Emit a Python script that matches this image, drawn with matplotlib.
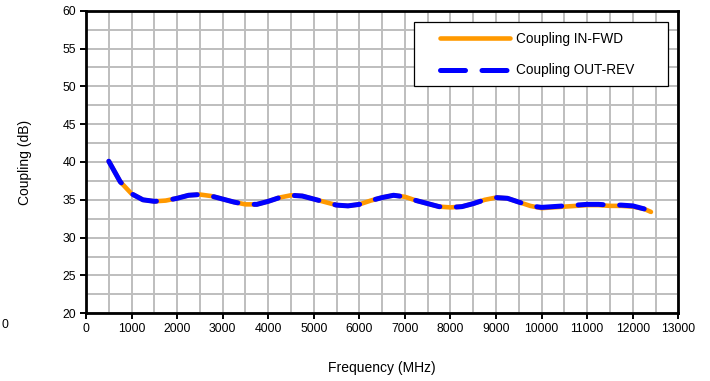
import numpy as np
import matplotlib
matplotlib.use("Agg")
from matplotlib import pyplot as plt
from matplotlib.ticker import MultipleLocator
from matplotlib.patches import Rectangle

# frequency points (MHz)
freq = [500, 750, 1000, 1250, 1500, 1750, 2000, 2250, 2500, 2750, 3000, 3250,
        3500, 3750, 4000, 4250, 4500, 4750, 5000, 5250, 5500, 5750, 6000, 6250,
        6500, 6750, 7000, 7250, 7500, 7750, 8000, 8250, 8500, 8750, 9000, 9250,
        9500, 9750, 10000, 10250, 10500, 10750, 11000, 11250, 11500, 11750,
        12000, 12250, 12400]

coupling_in_fwd = [40.1, 37.4, 35.8, 35.0, 34.8, 34.9, 35.2, 35.6, 35.7, 35.5,
                   35.1, 34.7, 34.4, 34.4, 34.8, 35.3, 35.6, 35.5, 35.1, 34.7,
                   34.3, 34.2, 34.4, 34.9, 35.3, 35.6, 35.4, 34.9, 34.5, 34.1,
                   34.0, 34.1, 34.5, 35.0, 35.3, 35.2, 34.7, 34.2, 33.9, 34.0,
                   34.1, 34.2, 34.3, 34.3, 34.2, 34.2, 34.1, 33.8, 33.4]

coupling_out_rev = [40.1, 37.4, 35.8, 35.0, 34.8, 34.9, 35.2, 35.6, 35.7, 35.5,
                    35.1, 34.7, 34.4, 34.4, 34.8, 35.3, 35.6, 35.5, 35.1, 34.7,
                    34.3, 34.2, 34.4, 34.9, 35.3, 35.6, 35.4, 34.9, 34.5, 34.1,
                    34.0, 34.1, 34.5, 35.0, 35.3, 35.2, 34.7, 34.2, 34.0, 34.1,
                    34.2, 34.3, 34.4, 34.4, 34.3, 34.3, 34.2, 33.8, 33.4]

plt.rcParams["font.family"] = ["Liberation Sans", "DejaVu Sans"]

W, H = 710, 381
fig = plt.figure(figsize=(7.1, 3.81), dpi=100)
ax_l, ax_b, ax_w, ax_h = 86, 313.3, 592.3, 302.6
ax = fig.add_axes([ax_l / W, 1 - ax_b / H, ax_w / W, ax_h / H])


def to_axes(px, py):
    # pixel position in the picture -> axes fraction
    return (px - ax_l) / ax_w, (ax_b - py) / ax_h


# grid (major and minor both drawn the same grey)
ax.xaxis.set_major_locator(MultipleLocator(1000))
ax.xaxis.set_minor_locator(MultipleLocator(500))
ax.yaxis.set_major_locator(MultipleLocator(5))
ax.yaxis.set_minor_locator(MultipleLocator(2.5))
ax.grid(which="both", color="#BEBEBE", linewidth=1.4, zorder=0)
ax.set_axisbelow(True)

ax.plot(freq, coupling_in_fwd, color="#FF9900", linewidth=3.3,
        solid_capstyle="round", label="Coupling IN-FWD", zorder=3)
ax.plot(freq, coupling_out_rev, color="#0000FF", linewidth=3.6,
        dashes=(5.0, 3.3), dash_capstyle="round", label="Coupling OUT-REV",
        zorder=4)

ax.set_xlim(0, 13000)
ax.set_ylim(20, 60)

for s in ax.spines.values():
    s.set_linewidth(2.0)
    s.set_color("black")

ax.tick_params(which="major", direction="out", length=4, width=1.4,
               labelsize=8.8, colors="black", pad=3)
ax.tick_params(which="minor", length=0)

ax.set_xlabel("Frequency (MHz)", fontsize=10, labelpad=19)
ax.set_ylabel("Coupling (dB)", fontsize=10, labelpad=22)

# legend box drawn separately so it can be wider than its contents
x0, y0 = to_axes(414, 86)
x1, y1 = to_axes(667.7, 22.3)
ax.add_patch(Rectangle((x0, y0), x1 - x0, y1 - y0, transform=ax.transAxes,
                       facecolor="white", edgecolor="black", linewidth=0.9,
                       zorder=5))
lx, ly = to_axes(440, 32)
leg = ax.legend(loc="upper left", bbox_to_anchor=(lx, ly), fontsize=9.8,
                frameon=False, handlelength=5.15, labelspacing=1.28,
                borderpad=0, handletextpad=0.45, borderaxespad=0)
leg.set_zorder(6)

# stray label at the far left edge of the original
fig.text(1 / W, 1 - 325 / H, "0", ha="left", va="center", fontsize=8.8)

fig.savefig("out.png", dpi=100)
